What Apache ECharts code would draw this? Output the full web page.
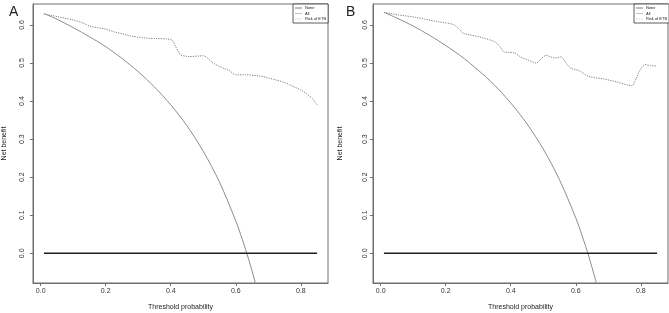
<!DOCTYPE html>
<html>
<head>
<meta charset="utf-8">
<script src="https://cdn.jsdelivr.net/npm/echarts@6/dist/echarts.min.js"></script>
<style>
  html, body { margin: 0; padding: 0; background: #fff; }
  #chart { width: 669px; height: 313px; }
</style>
</head>
<body>
<div id="chart"></div>
<script>
// decision curves
var xTicks = [0, 0.2, 0.4, 0.6, 0.8];
var yTicks = [0, 0.1, 0.2, 0.3, 0.4, 0.5, 0.6];
var noneX = [0.01, 0.85];
var noneY = [0, 0];

var allX  = [0.01, 0.05, 0.1, 0.15, 0.2, 0.25, 0.3, 0.35, 0.4, 0.45, 0.5, 0.55, 0.6, 0.62, 0.64, 0.66, 0.68];
var allA  = [0.630, 0.615, 0.593, 0.569, 0.543, 0.512, 0.477, 0.437, 0.390, 0.335, 0.268, 0.187, 0.085, 0.037, -0.017, -0.077, -0.144];
var allB  = [0.633, 0.618, 0.597, 0.573, 0.546, 0.516, 0.481, 0.442, 0.395, 0.340, 0.274, 0.193, 0.093, 0.045, -0.008, -0.068, -0.134];

var modelAX = [0.01, 0.05, 0.10, 0.13, 0.15, 0.20, 0.225, 0.25, 0.275, 0.30, 0.33, 0.36, 0.39, 0.405, 0.415, 0.43, 0.445,
               0.46, 0.48, 0.50, 0.515, 0.53, 0.56, 0.58, 0.60, 0.63, 0.67, 0.70, 0.725, 0.75, 0.775, 0.80, 0.82, 0.835, 0.85];
var modelAY = [0.629, 0.622, 0.613, 0.605, 0.597, 0.589, 0.582, 0.577, 0.571, 0.568, 0.565, 0.564, 0.563, 0.559, 0.543, 0.522, 0.518,
               0.517, 0.518, 0.519, 0.512, 0.500, 0.487, 0.480, 0.469, 0.469, 0.466, 0.461, 0.455, 0.449, 0.439, 0.429, 0.418, 0.407, 0.390];

var modelBX = [0.01, 0.05, 0.107, 0.15, 0.18, 0.224, 0.24, 0.255, 0.28, 0.31, 0.35, 0.365, 0.38, 0.395, 0.412, 0.432, 0.455, 0.478,
               0.495, 0.508, 0.52, 0.534, 0.554, 0.57, 0.584, 0.61, 0.64, 0.686, 0.727, 0.76, 0.772, 0.785, 0.80, 0.813, 0.83, 0.85];
var modelBY = [0.633, 0.627, 0.620, 0.613, 0.608, 0.601, 0.590, 0.578, 0.573, 0.567, 0.556, 0.545, 0.529, 0.528, 0.526, 0.515, 0.507, 0.500,
               0.512, 0.520, 0.517, 0.513, 0.516, 0.500, 0.487, 0.480, 0.465, 0.458, 0.450, 0.442, 0.440, 0.458, 0.485, 0.496, 0.493, 0.492];

function pairs(xs, ys) {
  return xs.map(function (x, i) { return [x, ys[i]]; });
}

var font = '"Liberation Sans", Arial, sans-serif';
var boxColor = "#6f6f6f";
var solidIcon = "path://M0,0H12V1H0Z";
var dotIcon = "path://M0,0H1V1H0Z M2.5,0H3.5V1H2.5Z M5,0H6V1H5Z M7.5,0H8.5V1H7.5Z M10,0H11V1H10Z";

function xAxis(gi) {
  return {
    type: "value", gridIndex: gi, min: -0.0236, max: 0.8836,
    name: "Threshold probability", nameLocation: "middle", nameGap: 21,
    nameTextStyle: { fontFamily: font, fontSize: 7, color: "#222" },
    axisLine: { onZero: false, lineStyle: { color: boxColor, width: 1 } },
    axisTick: { length: 3, lineStyle: { color: boxColor }, customValues: xTicks },
    axisLabel: { fontFamily: font, fontSize: 7, color: "#333", margin: 5,
                 customValues: xTicks, formatter: function (v) { return v.toFixed(1); } },
    splitLine: { show: false }
  };
}
function yAxis(gi, margin, gap) {
  return {
    type: "value", gridIndex: gi, min: -0.078, max: 0.655,
    name: "Net benefit", nameLocation: "middle", nameGap: gap,
    nameTextStyle: { fontFamily: font, fontSize: 7, color: "#222" },
    axisLine: { onZero: false, lineStyle: { color: boxColor, width: 1 } },
    axisTick: { length: 3, lineStyle: { color: boxColor }, customValues: yTicks },
    axisLabel: { fontFamily: font, fontSize: 7, color: "#333", margin: margin, rotate: 90,
                 customValues: yTicks, formatter: function (v) { return v.toFixed(1); } },
    splitLine: { show: false }
  };
}
function legend(left) {
  return {
    left: left, top: 4, orient: "vertical", itemGap: 1.5, itemWidth: 7, itemHeight: 1,
    padding: [2, 2, 2, 2], borderColor: "#333", borderWidth: 0.8, backgroundColor: "#fff",
    textStyle: { fontFamily: font, fontSize: 4, color: "#222", padding: [0, 0, 0, -2] },
    data: [
      { name: "None", icon: solidIcon },
      { name: "All", icon: solidIcon },
      { name: "Risk of ETB", icon: dotIcon }
    ]
  };
}
function curves(gi) {
  return [
    { name: "None", type: "line", xAxisIndex: gi, yAxisIndex: gi, symbol: "none",
      lineStyle: { color: "#1e1e1e", width: 1.4 }, itemStyle: { color: "#1e1e1e" },
      data: pairs(noneX, noneY), z: 3 },
    { name: "All", type: "line", xAxisIndex: gi, yAxisIndex: gi, symbol: "none", smooth: 0.3,
      lineStyle: { color: "#8c8c8c", width: 1 }, itemStyle: { color: "#9a9a9a" },
      data: pairs(allX, gi === 0 ? allA : allB), z: 2 },
    { name: "Risk of ETB", type: "line", xAxisIndex: gi, yAxisIndex: gi, symbol: "none", smooth: 0.3,
      lineStyle: { color: "#808080", width: 1, type: [1.2, 1.2] }, itemStyle: { color: "#808080" },
      data: pairs(gi === 0 ? modelAX : modelBX, gi === 0 ? modelAY : modelBY), z: 2 }
  ];
}

var chart = echarts.init(document.getElementById("chart"), null, { renderer: "canvas" });
chart.setOption({
  animation: false,
  backgroundColor: "#fff",
  title: [
    { text: "A", left: 4, top: 0, textStyle: { fontFamily: font, fontSize: 14, fontWeight: "normal", color: "#222" } },
    { text: "B", left: 341, top: 0, textStyle: { fontFamily: font, fontSize: 14, fontWeight: "normal", color: "#222" } }
  ],
  legend: [legend(293), legend(634)],
  grid: [
    { left: 33, top: 4, width: 295, height: 279, outerBoundsMode: "none", show: true,
      borderColor: boxColor, borderWidth: 1, backgroundColor: "transparent" },
    { left: 373, top: 4, width: 295, height: 279, outerBoundsMode: "none", show: true,
      borderColor: boxColor, borderWidth: 1, backgroundColor: "transparent" }
  ],
  xAxis: [xAxis(0), xAxis(1)],
  yAxis: [yAxis(0, 7, 25), yAxis(1, 4, 29)],
  series: curves(0).concat(curves(1))
});
</script>
</body>
</html>
